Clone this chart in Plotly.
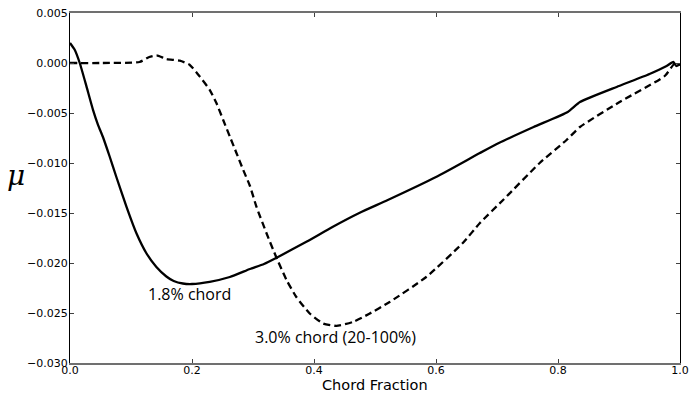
import plotly.graph_objects as go

# Solid curve: 1.8% chord
x_18 = [0.0, 0.0077, 0.016, 0.027, 0.0377, 0.0459, 0.054, 0.065, 0.076, 0.0925,
        0.1089, 0.125, 0.1416, 0.158, 0.170, 0.185, 0.200, 0.229, 0.262, 0.295, 0.318,
        0.341, 0.3875, 0.431, 0.475, 0.521, 0.600, 0.672, 0.703, 0.760, 0.816, 0.836,
        0.900, 0.950, 0.978, 0.989, 0.994, 1.0]
mu_18 = [0.0020, 0.00133, 0.0, -0.00234, -0.00468, -0.00618, -0.00740, -0.00935, -0.0114,
         -0.01437, -0.01703, -0.01900, -0.02040, -0.02135, -0.02180, -0.02205, -0.02210,
         -0.02188, -0.0214, -0.0206, -0.0201, -0.0194, -0.01788, -0.01637, -0.01497,
         -0.0137, -0.0114, -0.0090, -0.0080, -0.0064, -0.0049, -0.0039, -0.0023, -0.0011,
         -0.0003, 0.0001, -0.0003, -0.0001]

# Dashed curve: 3.0% chord (20-100%)
x_30 = [0.0, 0.05, 0.114, 0.130, 0.142, 0.158, 0.180, 0.196, 0.2126, 0.229, 0.240, 0.251,
        0.262, 0.273, 0.284, 0.295, 0.3056, 0.322, 0.338, 0.355, 0.371, 0.393, 0.415,
        0.4367, 0.464, 0.490, 0.524, 0.584, 0.644, 0.672, 0.710, 0.770, 0.814, 0.836,
        0.901, 0.975, 0.992, 1.0]
mu_30 = [0.0, 0.0, 0.0001, 0.0006, 0.00076, 0.0004, 0.00023, -0.00017, -0.00134, -0.00268,
         -0.0040, -0.00568, -0.00735, -0.00902, -0.0107, -0.0123, -0.01437, -0.0170,
         -0.0194, -0.0217, -0.0234, -0.02505, -0.02605, -0.02629, -0.02589, -0.0251,
         -0.0239, -0.0214, -0.0180, -0.0160, -0.0137, -0.0100, -0.0077, -0.0064, -0.0039,
         -0.0013, 0.0, -0.0002]

x_ticks = [0.0, 0.2, 0.4, 0.6, 0.8, 1.0]
x_tick_text = ["0.0", "0.2", "0.4", "0.6", "0.8", "1.0"]
y_ticks = [0.005, 0.0, -0.005, -0.010, -0.015, -0.020, -0.025, -0.030]
y_tick_text = ["0.005", "0.000", "\u22120.005", "\u22120.010", "\u22120.015",
               "\u22120.020", "\u22120.025", "\u22120.030"]

line_style = dict(color="black", width=2.3, shape="spline", smoothing=0.5)

fig = go.Figure()
fig.add_trace(go.Scatter(x=x_18, y=mu_18, mode="lines", line=line_style))
fig.add_trace(go.Scatter(x=x_30, y=mu_30, mode="lines",
                         line=dict(line_style, dash="7px,4px")))

fig.update_layout(
    width=690, height=399,
    margin=dict(l=70, r=10, t=13, b=36),
    paper_bgcolor="white", plot_bgcolor="white",
    showlegend=False,
    font=dict(family="DejaVu Sans", size=11, color="black"),
    annotations=[
        dict(text="1.8% chord", x=0.196, y=-0.0231, xref="x", yref="y", showarrow=False,
             xanchor="center", yanchor="middle",
             font=dict(family="Open Sans", size=16, color="black")),
        dict(text="3.0% chord (20-100%)", x=0.435, y=-0.0274, xref="x", yref="y",
             showarrow=False, xanchor="center", yanchor="middle",
             font=dict(family="Open Sans", size=16, color="black")),
        dict(text="<i>\u03bc</i>", x=-0.088, y=0.537, xref="paper", yref="paper",
             showarrow=False, xanchor="center", yanchor="middle",
             font=dict(family="DejaVu Serif", size=28, color="black")),
        dict(text="Chord Fraction", x=0.5, y=-0.063, xref="paper", yref="paper",
             showarrow=False, xanchor="center", yanchor="middle",
             font=dict(family="DejaVu Sans", size=14.5, color="black")),
    ],
)
fig.update_xaxes(range=[0, 1], tickvals=x_ticks, ticktext=x_tick_text, automargin=False,
                 showgrid=False, zeroline=False, showline=True, linecolor="#707070",
                 linewidth=1.5, mirror="ticks", ticks="inside", ticklen=4,
                 tickcolor="#404040", ticklabelstandoff=-4)
fig.update_yaxes(range=[-0.030, 0.005], tickvals=y_ticks, ticktext=y_tick_text,
                 automargin=False,
                 showgrid=False, zeroline=False, showline=True, linecolor="black",
                 linewidth=1.2, mirror="ticks", ticks="inside", ticklen=4,
                 tickcolor="#404040", ticklabelstandoff=-1)

fig.write_html("out.html")
